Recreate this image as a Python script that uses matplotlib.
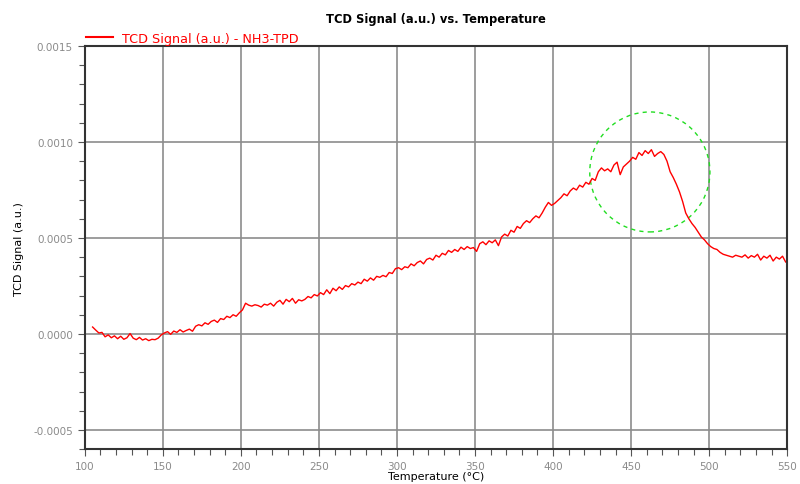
import numpy as np
import matplotlib
matplotlib.use('Agg')
import matplotlib.pyplot as plt
from matplotlib.patches import Ellipse
from matplotlib.ticker import MultipleLocator, FormatStrFormatter

plt.rcParams['font.family'] = ['DejaVu Sans']

# NH3-TPD run: TCD signal sampled every 2 degC starting at 105 degC (units of 1e-6 a.u.)
temp_start = 105
temp_step = 2
signal_e6 = [
    36, 20, 5, 8, -15, -5, -20, -10, -25, -12,
    -28, -20, 2, -22, -30, -18, -32, -25, -35, -28,
    -30, -22, -5, 5, 12, -2, 15, 8, 22, 10,
    18, 25, 14, 40, 48, 42, 58, 50, 65, 72,
    60, 80, 75, 92, 85, 100, 92, 110, 125, 160,
    150, 145, 152, 148, 140, 155, 150, 160, 145, 165,
    175, 155, 180, 168, 185, 160, 178, 172, 180, 195,
    188, 205, 198, 215, 205, 230, 210, 238, 225, 245,
    232, 252, 245, 262, 255, 270, 262, 285, 275, 292,
    280, 300, 295, 305, 298, 320, 315, 340, 345, 335,
    350, 345, 365, 355, 372, 380, 365, 388, 395, 385,
    410, 400, 420, 412, 435, 425, 440, 430, 452, 440,
    455, 445, 450, 430, 470, 480, 465, 485, 475, 490,
    460, 505, 520, 510, 540, 530, 560, 550, 575, 590,
    580, 600, 615, 605, 630, 660, 685, 670, 680, 695,
    710, 730, 720, 745, 760, 750, 775, 765, 790, 780,
    810, 800, 845, 865, 850, 860, 845, 880, 895, 830,
    870, 885, 900, 920, 910, 945, 930, 955, 940, 960,
    925, 940, 950, 935, 900, 845, 815, 780, 740, 690,
    630, 600, 575, 555, 530, 505, 490, 470, 455, 445,
    440, 425, 415, 410, 405, 400, 410, 405, 400, 412,
    395, 408, 400, 415, 385, 405, 395, 410, 380, 400,
    390, 405, 375,
]
temps = temp_start + temp_step * np.arange(len(signal_e6))
signal = np.array(signal_e6) * 1e-6

# highlighted desorption peak region (centre in degC / a.u., size in degC / a.u.)
peak_centre = (462, 0.000844)
peak_size = (77, 0.000625)

fig = plt.figure(figsize=(8, 4.85), dpi=100)
ax = fig.add_axes([0.106, 0.072, 0.878, 0.831])

ax.plot(temps, signal, color='red', linewidth=1.0, label='TCD Signal (a.u.) - NH3-TPD')
ax.add_patch(Ellipse(peak_centre, peak_size[0], peak_size[1], fill=False,
                     edgecolor='#22dd22', linewidth=1.0, linestyle=(0, (3, 3))))

ax.set_xlim(100, 550)
ax.set_ylim(-0.0006, 0.0015)
ax.xaxis.set_major_locator(MultipleLocator(50))
ax.xaxis.set_minor_locator(MultipleLocator(10))
ax.yaxis.set_major_locator(MultipleLocator(0.0005))
ax.yaxis.set_minor_locator(MultipleLocator(0.0001))
ax.yaxis.set_major_formatter(FormatStrFormatter('%.4f'))

ax.grid(True, which='major', color='#8c8c8c', linewidth=1.2)
ax.set_axisbelow(True)
for side in ax.spines:
    ax.spines[side].set_color('#333333')
    ax.spines[side].set_linewidth(1.5)

ax.tick_params(which='both', direction='out', colors='#555555', labelcolor='#8a8a8a',
               labelsize=7.5, width=0.8)
ax.tick_params(which='major', length=5)
ax.tick_params(which='minor', length=4)

ax.set_title('TCD Signal (a.u.) vs. Temperature', fontsize=8.3, fontweight='bold', pad=17)
ax.set_xlabel('Temperature (°C)', fontsize=8, labelpad=0)
ax.set_ylabel('TCD Signal (a.u.)', fontsize=8, labelpad=7)

leg = ax.legend(loc='lower left', bbox_to_anchor=(0, 1.0), frameon=False, fontsize=9.2,
                labelcolor='red', borderaxespad=0, borderpad=0.1, handlelength=2.1,
                handletextpad=0.7)
leg.get_lines()[0].set_linewidth(1.5)

fig.savefig('out.png', dpi=100)
